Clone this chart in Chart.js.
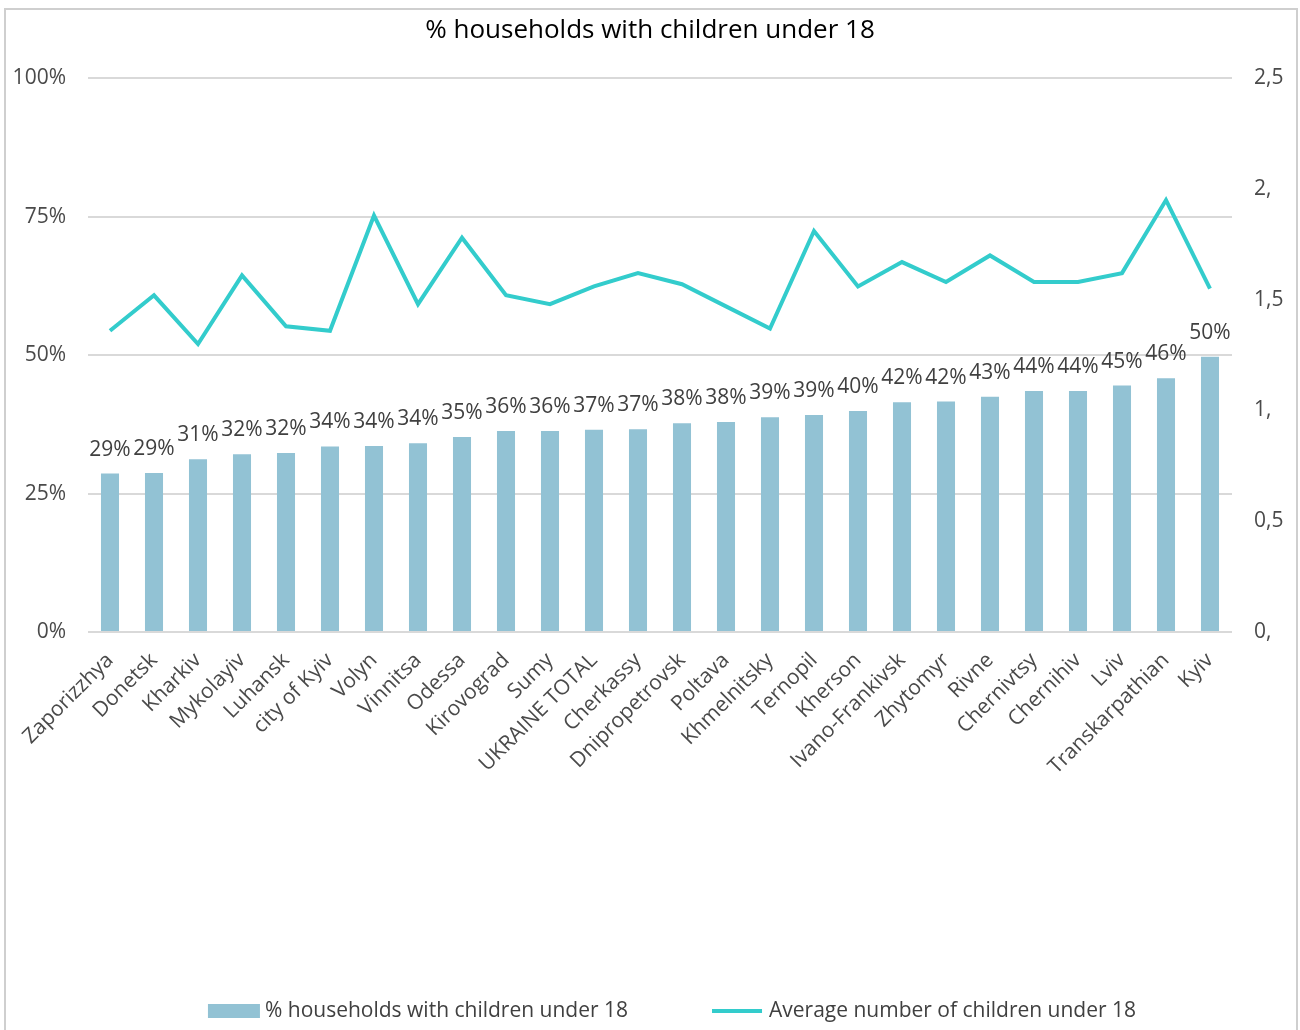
<!DOCTYPE html>
<html>
<head>
<meta charset="utf-8">
<title>% households with children under 18</title>
<script src="https://cdn.jsdelivr.net/npm/chart.js@4.4.0/dist/chart.umd.min.js"></script>
<style>
  html, body { margin: 0; padding: 0; background: #fff; overflow: hidden; }
</style>
</head>
<body>
<canvas id="chart" width="1300" height="1030"></canvas>
<script>
// regions sorted by share of households with children
const regions = ['Zaporizzhya', 'Donetsk', 'Kharkiv', 'Mykolayiv', 'Luhansk', 'city of Kyiv', 'Volyn',
    'Vinnitsa', 'Odessa', 'Kirovograd', 'Sumy', 'UKRAINE TOTAL', 'Cherkassy', 'Dnipropetrovsk', 'Poltava',
    'Khmelnitsky', 'Ternopil', 'Kherson', 'Ivano-Frankivsk', 'Zhytomyr', 'Rivne', 'Chernivtsy', 'Chernihiv',
    'Lviv', 'Transkarpathian', 'Kyiv'];

// % households with children under 18
const shareWithChildren = [28.6, 28.7, 31.2, 32.1, 32.3, 33.5, 33.6, 34.1, 35.2, 36.3, 36.3, 36.5, 36.6,
    37.7, 37.9, 38.8, 39.2, 39.9, 41.5, 41.6, 42.5, 43.5, 43.5, 44.5, 45.8, 49.7];

// average number of children under 18
const avgChildren = [1.36, 1.52, 1.30, 1.61, 1.38, 1.36, 1.88, 1.48, 1.78, 1.52, 1.48, 1.56, 1.62,
    1.57, 1.47, 1.37, 1.81, 1.56, 1.67, 1.58, 1.70, 1.58, 1.58, 1.62, 1.95, 1.55];

const pctTickLabels = ['0%', '25%', '50%', '75%', '100%'];
const avgTickLabels = ['0,', '0,5', '1,', '1,5', '2,', '2,5'];

const BAR_COLOR = '#92C2D4';
const LINE_COLOR = '#33CCCC';
const TEXT_COLOR = '#404040';
const FONT = "'Open Sans', sans-serif";

Chart.defaults.font.family = FONT;
Chart.defaults.color = '#4A4A4A';

// thin grey frame around the whole chart
const framePlugin = {
    id: 'frame',
    beforeDraw(chart) {
        const ctx = chart.ctx;
        ctx.save();
        ctx.fillStyle = '#fff';
        ctx.fillRect(0, 0, chart.width, chart.height);
        ctx.strokeStyle = '#CFCFCF';
        ctx.lineWidth = 2;
        ctx.strokeRect(5, 9, chart.width - 8, chart.height + 40);
        ctx.restore();
    }
};

// percentage above every bar
const barLabelsPlugin = {
    id: 'barLabels',
    afterDatasetsDraw(chart) {
        const ctx = chart.ctx;
        chart.data.datasets.forEach((ds, i) => {
            if (ds.type !== 'bar') return;
            const meta = chart.getDatasetMeta(i);
            ctx.save();
            ctx.font = '21px ' + FONT;
            ctx.fillStyle = TEXT_COLOR;
            ctx.textAlign = 'center';
            ctx.textBaseline = 'alphabetic';
            meta.data.forEach((bar, j) => {
                ctx.fillText(Math.round(ds.data[j]) + '%', bar.x, bar.y - 18);
            });
            ctx.restore();
        });
    }
};

// legend row at the bottom: bar swatch, then line swatch
const bottomLegendPlugin = {
    id: 'bottomLegend',
    afterDraw(chart) {
        const ctx = chart.ctx;
        const area = chart.chartArea;
        const items = chart.data.datasets.slice().sort((a, b) => b.order - a.order);
        ctx.save();
        ctx.font = '21px ' + FONT;
        const swatchW = 52, textGap = 5, itemGap = 84;
        let total = 0;
        items.forEach((ds, i) => {
            total += swatchW + textGap + ctx.measureText(ds.label).width + (i ? 0 : itemGap);
        });
        let x = (area.left + area.right) / 2 + 12 - total / 2;
        const y = chart.height - 19;
        items.forEach(ds => {
            if (ds.type === 'bar') {
                ctx.fillStyle = ds.backgroundColor;
                ctx.fillRect(x, y - 7, swatchW, 14);
            } else {
                ctx.strokeStyle = ds.borderColor;
                ctx.lineWidth = ds.borderWidth;
                ctx.beginPath();
                ctx.moveTo(x, y);
                ctx.lineTo(x + swatchW - 2, y);
                ctx.stroke();
            }
            x += swatchW + textGap;
            ctx.fillStyle = TEXT_COLOR;
            ctx.textAlign = 'left';
            ctx.textBaseline = 'middle';
            ctx.fillText(ds.label, x, y);
            x += ctx.measureText(ds.label).width + itemGap;
        });
        ctx.restore();
    }
};

const ctx = document.getElementById('chart').getContext('2d');
const chart = new Chart(ctx, {
    data: {
        labels: regions,
        datasets: [
            {
                type: 'line',
                label: 'Average number of children under 18',
                data: avgChildren,
                yAxisID: 'yAvg',
                borderColor: LINE_COLOR,
                borderWidth: 4,
                pointRadius: 0,
                tension: 0,
                order: 0
            },
            {
                type: 'bar',
                label: '% households with children under 18',
                data: shareWithChildren,
                yAxisID: 'yPct',
                backgroundColor: BAR_COLOR,
                barPercentage: 0.41,
                categoryPercentage: 1,
                order: 1
            }
        ]
    },
    options: {
        responsive: false,
        devicePixelRatio: 1,
        animation: false,
        layout: { padding: { top: 8, left: 8, right: 8, bottom: 10 } },
        scales: {
            x: {
                grid: { display: false },
                border: { display: false },
                ticks: {
                    autoSkip: false,
                    maxRotation: 45,
                    minRotation: 45,
                    padding: 8,
                    font: { size: 21 }
                },
                afterFit: (scale) => { scale.height = 388; }
            },
            yPct: {
                position: 'left',
                min: 0,
                max: 100,
                grid: { color: '#D9D9D9', lineWidth: 2, drawTicks: false },
                border: { display: false },
                ticks: {
                    stepSize: 25,
                    padding: 22,
                    font: { size: 21 },
                    callback: (v, i) => pctTickLabels[i]
                },
                afterFit: (scale) => { scale.width = 80; }
            },
            yAvg: {
                position: 'right',
                min: 0,
                max: 2.5,
                grid: { display: false, drawTicks: false },
                border: { display: false },
                ticks: {
                    stepSize: 0.5,
                    padding: 22,
                    font: { size: 21 },
                    callback: (v, i) => avgTickLabels[i]
                },
                afterFit: (scale) => { scale.width = 60; }
            }
        },
        plugins: {
            legend: { display: false },
            tooltip: { enabled: false },
            title: {
                display: true,
                text: '% households with children under 18',
                color: '#000',
                font: { size: 26, weight: 'normal' },
                padding: { top: 7, bottom: 32 }
            }
        }
    },
    plugins: [framePlugin, barLabelsPlugin, bottomLegendPlugin]
});
</script>
</body>
</html>
